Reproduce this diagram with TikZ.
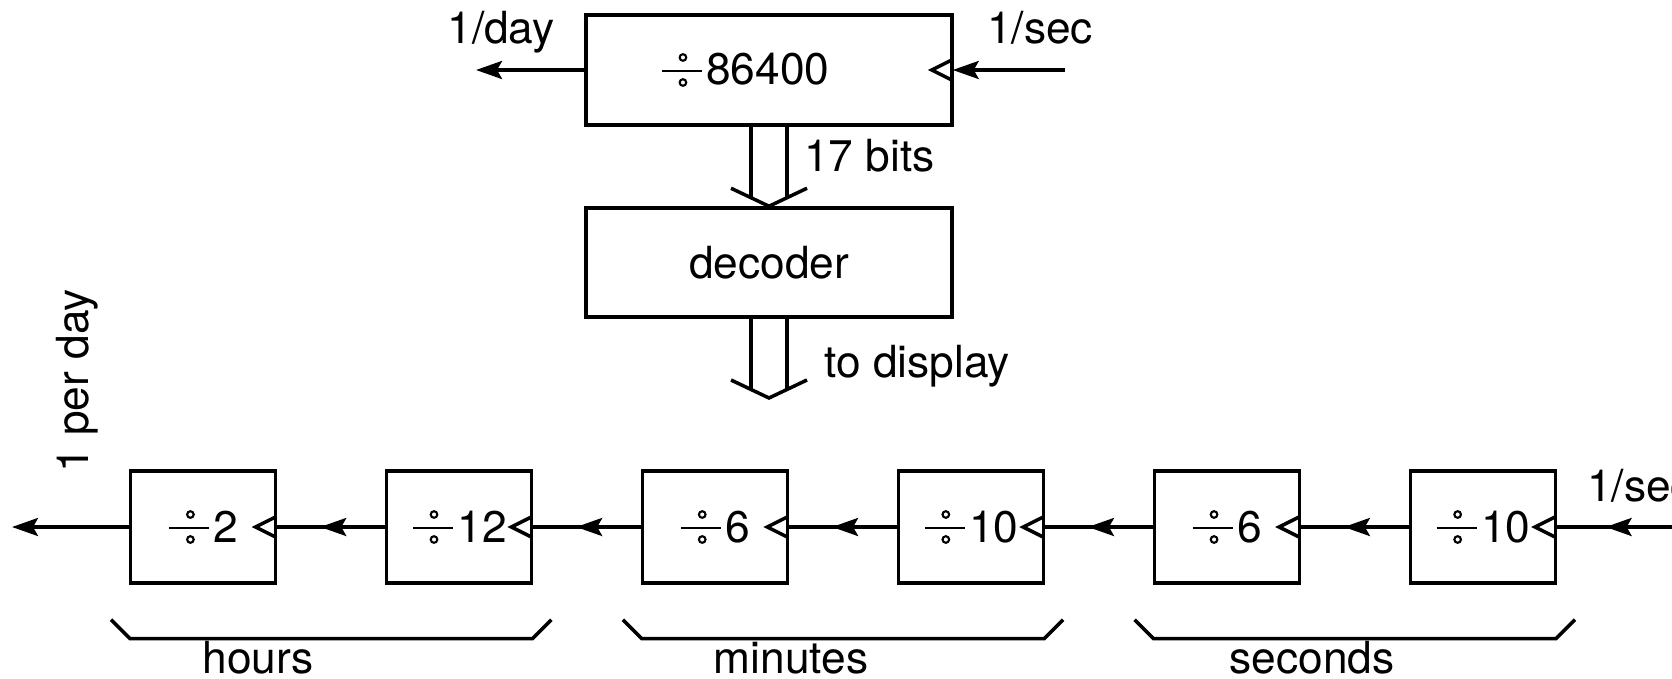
\documentclass[tikz,border=0pt]{standalone}
\usepackage{fontspec}
\setmainfont{TeX Gyre Heros}
\usetikzlibrary{matrix,arrows.meta,decorations.markings}
\newcommand{\divby}{\tikz[baseline=0pt]{\draw[line width=0.8pt] (0,1.4mm) -- (4mm,1.4mm);
    \draw[line width=0.6pt] (2.1mm,2.75mm) circle (0.33mm) (2.1mm,0.25mm) circle (0.33mm);}\kern0.3mm}

\begin{document}
\begin{tikzpicture}[
every node/.style={inner sep=1pt, font=\fontsize{12.6}{15}\selectfont},
line width=1pt,
>={Stealth[length=2.6mm,width=1.8mm,inset=0.5mm]},
counter/.style={draw, minimum width=1.45cm, minimum height=1.12cm},
wide/.style={draw, minimum width=3.66cm, minimum height=1.1cm},
midarrow/.style={postaction={decorate},
    decoration={markings, mark=at position 0.6 with {\arrow{>}}}}
]
\useasboundingbox (0,0) rectangle (16.72,6.78);

\node[wide] (top) at (7.69,6.08) {\divby86400\kern4.8mm};
\node[wide, minimum height=1.09cm] (dec) at (7.69,4.155) {decoder};
\coordinate (disp) at (7.69,2.80);
\coordinate (day) at (4.76,6.08);
\coordinate (secin) at (10.65,6.08);

\matrix (c) [matrix of nodes, nodes={counter}, column sep=1.095cm, ampersand replacement=\&] at (8.43,1.51) {
\divby2 \& \divby12 \& \divby6 \& \divby10 \& \divby6 \& \divby10 \\
};
\coordinate (out) at (0.12,1.51);
\coordinate (in) at (16.80,1.51);

% top counter
\draw[->] (top.west) -- (day);
\draw[->] (secin) -- (top.east);
\node[anchor=base] (lday) at (5.01,6.34) {1/day};
\node[anchor=base] (lsec) at (10.40,6.34) {1/sec};

% buses
\foreach \a/\b in {top.south/dec.north, dec.south/disp}{
    \draw ([xshift=-1.8mm]\a) -- ([xshift=-1.8mm,yshift=0.85mm]\b);
    \draw ([xshift=1.8mm]\a) -- ([xshift=1.8mm,yshift=0.85mm]\b);
    \draw ([xshift=-3.8mm,yshift=1.8mm]\b) -- (\b) -- ([xshift=3.8mm,yshift=1.8mm]\b);
}
\node[anchor=base west] (bits) at (7.99,5.06) {17 bits};
\node[anchor=base west] (todisp) at (8.19,3.01) {to display};

% chain
\draw[->] (c-1-1.west) -- (out);
\foreach \i/\j in {1-2/1-1, 1-3/1-2, 1-4/1-3, 1-5/1-4, 1-6/1-5}
    \draw[midarrow] (c-\i.west) -- (c-\j.east);
\draw[midarrow] (in) -- (c-1-6.east);
\node[anchor=base west] (lsec2) at (15.82,1.77) {1/sec};
\node[rotate=90] (lperday) at (0.77,2.97) {1 per day};

% clock inputs
\foreach \n in {top, c-1-1, c-1-2, c-1-3, c-1-4, c-1-5, c-1-6}
    \draw ([yshift=1.05mm]\n.east) -- ([xshift=-2.1mm]\n.east) -- ([yshift=-1.05mm]\n.east);

% groups
\foreach \a/\b/\lab/\x in {1/2/hours/2.58, 3/4/minutes/7.91, 5/6/seconds/13.12}{
    \draw ([xshift=-1.9mm,yshift=-3.6mm]c-1-\a.south west) -- ([yshift=-5.5mm]c-1-\a.south west)
        -- ([yshift=-5.5mm]c-1-\b.south east) -- ([xshift=1.9mm,yshift=-3.6mm]c-1-\b.south east);
    \node[anchor=base] (\lab) at (\x,0.05) {\lab};
}

\end{tikzpicture}
\end{document}
